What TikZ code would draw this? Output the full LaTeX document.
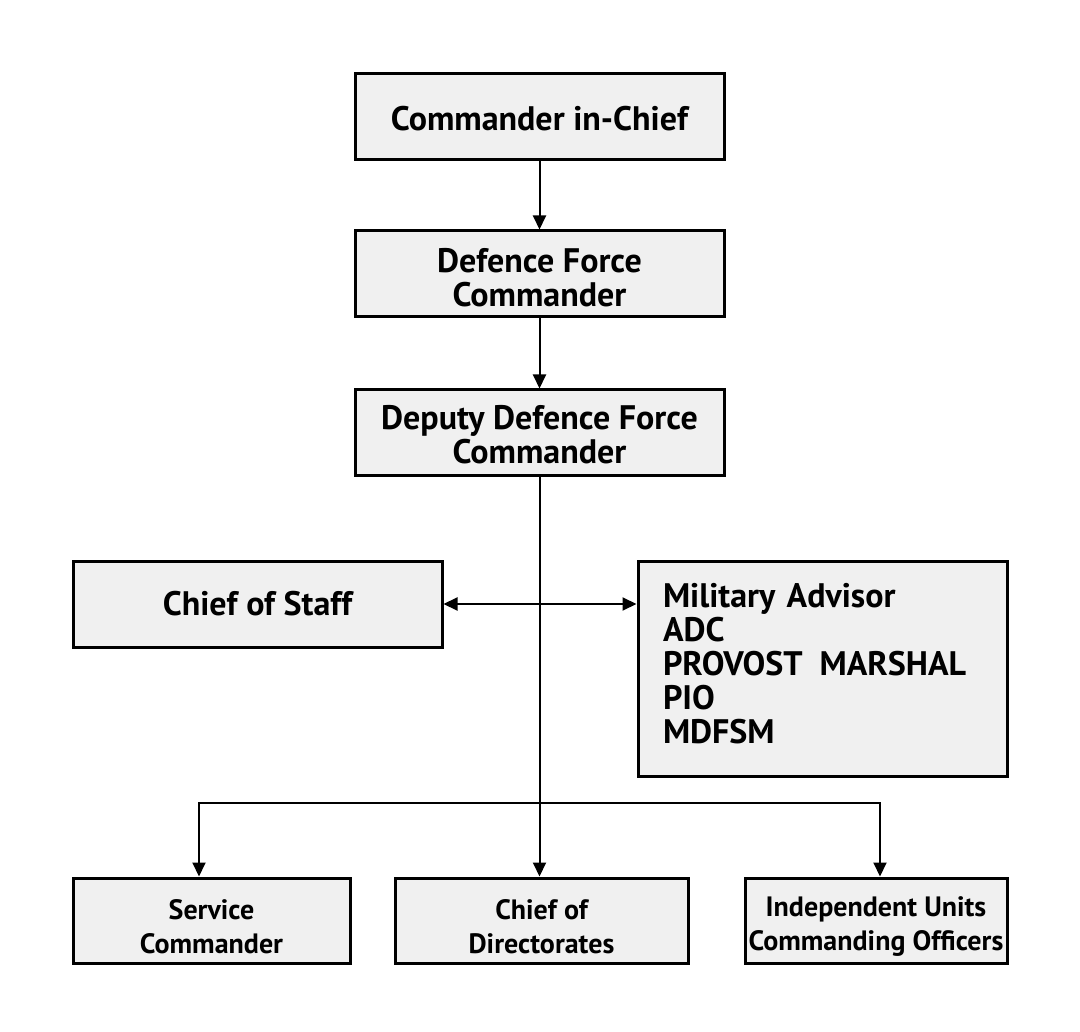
\documentclass[tikz,border=0pt]{standalone}
\usepackage{fontspec}
\setmainfont{PT Sans}
\usetikzlibrary{arrows.meta}
\begin{document}
\begin{tikzpicture}[x=1pt,y=-1pt,
  box/.style={draw=black,line width=3pt,fill=boxgray,inner sep=0pt},
  txt/.style={inner sep=0pt,font=\bfseries\fontsize{34}{34}\selectfont,align=center},
  small/.style={inner sep=0pt,font=\bfseries\fontsize{28}{33.5}\selectfont,align=center},
  conn/.style={line width=2pt,-{Triangle[length=14pt,width=13pt]}},
  conn2/.style={line width=2pt,{Triangle[length=14pt,width=13pt]}-{Triangle[length=14pt,width=13pt]}}]
\definecolor{boxgray}{HTML}{F0F0F0}
\useasboundingbox (0,0) rectangle (1080,1032);
\node[box,minimum width=369pt,minimum height=86pt,label={[txt,yshift=-2pt]center:Commander in-Chief}] (cic) at (539.5,117) {};
\node[box,minimum width=369pt,minimum height=86pt,label={[txt,yshift=-4pt]center:Defence Force\\Commander}] (dfc) at (539.5,274) {};
\node[box,minimum width=369pt,minimum height=86pt,label={[txt,yshift=-2pt]center:Deputy Defence Force\\Commander}] (ddfc) at (539.5,433) {};
\node[box,minimum width=369pt,minimum height=86pt,label={[txt,yshift=0pt]center:Chief of Staff}] (cos) at (257.5,604) {};
\node[box,minimum width=369pt,minimum height=215pt,label={[txt,align=left,text width=319pt,yshift=5pt]center:Military Advisor\\ADC\\PROVOST\ \,MARSHAL\\PIO\\MDFSM}] (mil) at (822.5,668.5) {};
\node[box,minimum width=277pt,minimum height=85pt,label={[small,yshift=-6pt]center:Service\\Commander}] (sc) at (211.5,920.5) {};
\node[box,minimum width=293pt,minimum height=85pt,label={[small,yshift=-6pt]center:Chief of\\Directorates}] (cd) at (541.5,920.5) {};
\node[box,minimum width=262pt,minimum height=85pt,label={[small,yshift=-6pt]center:Independent Units\\Commanding Officers}] (iu) at (876,920.5) {};
\coordinate (j2) at (540,803);
\draw[conn] (cic) -- (dfc);
\draw[conn] (dfc) -- (ddfc);
\draw[conn] (ddfc.south) -- (cd.north -| ddfc.south);
\draw[conn2] (cos.east) -- (mil.west |- cos.east);
\draw[conn] (j2) -| (sc.north -| 199,0);
\draw[conn] (j2) -| (iu.north -| 880,0);
\end{tikzpicture}
\end{document}
